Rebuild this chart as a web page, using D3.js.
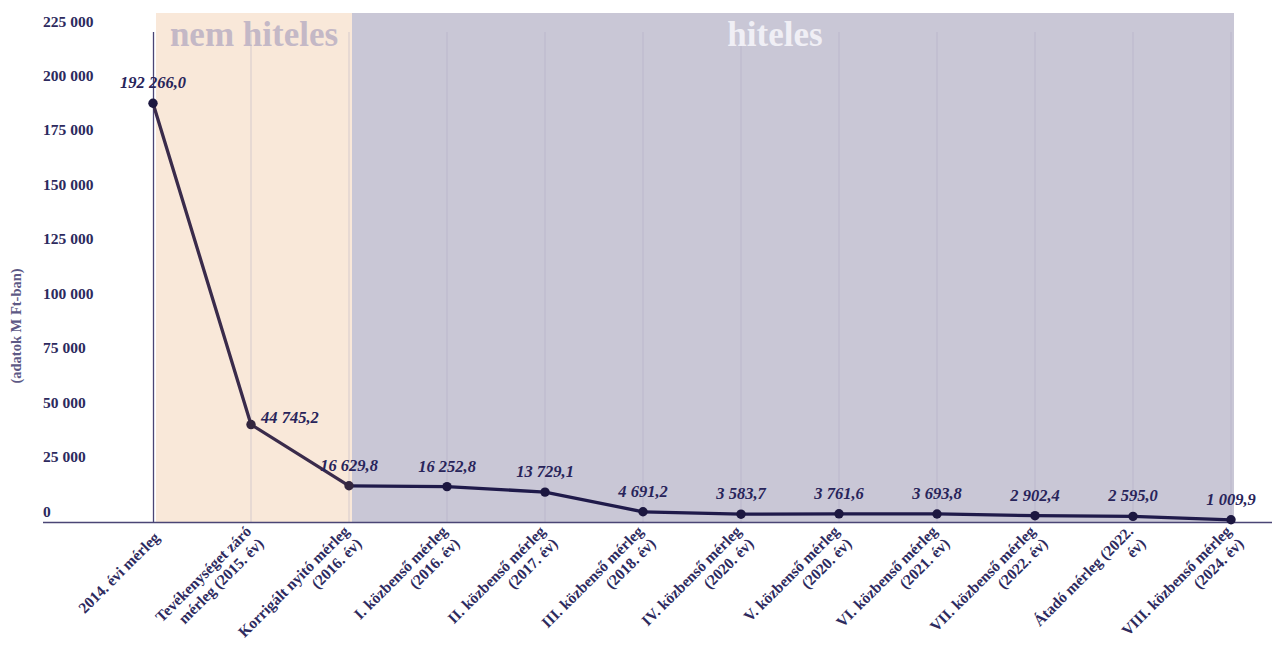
<!DOCTYPE html>
<html>
<head>
<meta charset="utf-8">
<script src="https://cdn.jsdelivr.net/npm/d3@7"></script>
<style>
  html, body { margin: 0; padding: 0; background: #ffffff; }
  svg { display: block; font-family: "Liberation Serif", "Times New Roman", serif; }
</style>
</head>
<body>
<svg id="chart" width="1272" height="646"></svg>
<script>
const categories = [
  ["2014. évi mérleg"],
  ["Tevékenységet záró", "mérleg (2015. év)"],
  ["Korrigált nyitó mérleg", "(2016. év)"],
  ["I. közbenső mérleg", "(2016. év)"],
  ["II. közbenső mérleg", "(2017. év)"],
  ["III. közbenső mérleg", "(2018. év)"],
  ["IV. közbenső mérleg", "(2020. év)"],
  ["V. közbenső mérleg", "(2020. év)"],
  ["VI. közbenső mérleg", "(2021. év)"],
  ["VII. közbenső mérleg", "(2022. év)"],
  ["Átadó mérleg (2022.", "év)"],
  ["VIII. közbenső mérleg", "(2024. év)"]
];
const values = [192266.0, 44745.2, 16629.8, 16252.8, 13729.1, 4691.2, 3583.7, 3761.6, 3693.8, 2902.4, 2595.0, 1009.9];
const valueLabels = ["192 266,0", "44 745,2", "16 629,8", "16 252,8", "13 729,1", "4 691,2", "3 583,7", "3 761,6", "3 693,8", "2 902,4", "2 595,0", "1 009,9"];
const yTicks = [0, 25000, 50000, 75000, 100000, 125000, 150000, 175000, 200000, 225000];
const yTickLabels = ["0", "25 000", "50 000", "75 000", "100 000", "125 000", "150 000", "175 000", "200 000", "225 000"];
const bands = [
  { label: "nem hiteles", from: 0, to: 2 },
  { label: "hiteles", from: 2, to: 11 }
];
const yTitle = "(adatok M Ft-ban)";

const svg = d3.select("#chart");
const idx = categories.map((d, i) => i);

const x = d3.scalePoint().domain(idx).range([153, 1231]);
const y = d3.scaleLinear().domain([0, 225000]).range([522, 32]);

// bands
const bandStyle = [
  { fill: "#f9e8d9", text: "#c4b8c6" },
  { fill: "#c9c7d6", text: "#f0eff5" }
];
const bandTop = 13;
bands.forEach((b, i) => {
  const x0 = x(b.from) + 3, x1 = x(b.to) + 3;
  svg.append("rect")
    .attr("x", x0).attr("y", bandTop)
    .attr("width", x1 - x0).attr("height", y(0) - bandTop)
    .attr("fill", bandStyle[i].fill);
});

// vertical gridlines
svg.append("g").selectAll("line")
  .data(idx.slice(1))
  .join("line")
  .attr("x1", d => x(d)).attr("x2", d => x(d))
  .attr("y1", y(225000)).attr("y2", y(0))
  .attr("stroke", "#a8a4c0")
  .attr("stroke-opacity", 0.45)
  .attr("stroke-width", 1);

// band labels
const bandLabelX = [254, 775];
bands.forEach((b, i) => {
  svg.append("text")
    .attr("x", bandLabelX[i]).attr("y", 46)
    .attr("text-anchor", "middle")
    .attr("font-size", 35)
    .attr("font-weight", "bold")
    .attr("fill", bandStyle[i].text)
    .text(b.label);
});

// axes lines
svg.append("line")
  .attr("x1", 43).attr("x2", 1272)
  .attr("y1", y(0) + 0.5).attr("y2", y(0) + 0.5)
  .attr("stroke", "#4a4575").attr("stroke-width", 1.3);
svg.append("line")
  .attr("x1", x(0) + 0.5).attr("x2", x(0) + 0.5)
  .attr("y1", y(225000)).attr("y2", y(0))
  .attr("stroke", "#4a4575").attr("stroke-width", 1.3);

// y tick labels
svg.append("g").selectAll("text")
  .data(yTicks)
  .join("text")
  .attr("x", 43)
  .attr("y", d => y(d) - 9)
  .attr("dominant-baseline", "middle")
  .attr("font-size", 15.5)
  .attr("font-weight", "bold")
  .attr("fill", "#2d2a5e")
  .text((d, i) => yTickLabels[i]);

// y title
svg.append("text")
  .attr("transform", "translate(21,326) rotate(-90)")
  .attr("text-anchor", "middle")
  .attr("font-size", 14.5)
  .attr("font-weight", "bold")
  .attr("fill", "#5d5985")
  .text(yTitle);

// line
const lineColor = "#1f1a4a";
const segColor = (i) => i < 2 ? "#3a2b4b" : lineColor;
for (let i = 0; i < values.length - 1; i++) {
  svg.append("line")
    .attr("x1", x(i)).attr("y1", y(values[i]))
    .attr("x2", x(i + 1)).attr("y2", y(values[i + 1]))
    .attr("stroke", segColor(i))
    .attr("stroke-width", 3.3)
    .attr("stroke-linecap", "round");
}
svg.append("g").selectAll("circle")
  .data(values)
  .join("circle")
  .attr("cx", (d, i) => x(i))
  .attr("cy", d => y(d))
  .attr("r", 4.7)
  .attr("fill", (d, i) => (i === 1 || i === 2) ? "#33263f" : "#1c1740");

// value labels
svg.append("g").selectAll("text")
  .data(values)
  .join("text")
  .attr("x", (d, i) => i === 1 ? x(i) + 10 : x(i))
  .attr("y", (d, i) => i === 1 ? y(d) - 2 : y(d) - 15)
  .attr("text-anchor", (d, i) => i === 1 ? "start" : "middle")
  .attr("font-size", 16.5)
  .attr("font-weight", "bold")
  .attr("font-style", "italic")
  .attr("fill", "#28245a")
  .text((d, i) => valueLabels[i]);

// x labels
const lh = 17.5;
const xl = svg.append("g");
categories.forEach((lines, i) => {
  const g = xl.append("g")
    .attr("transform", `translate(${x(i) + 5},536) rotate(-45)`);
  lines.forEach((t, k) => {
    g.append("text")
      .attr("x", 0)
      .attr("y", (k - (lines.length - 1) / 2) * lh)
      .attr("dominant-baseline", "middle")
      .attr("text-anchor", "end")
      .attr("font-size", 15.5)
      .attr("font-weight", "bold")
      .attr("fill", "#2d2a5e")
      .text(t);
  });
});
</script>
</body>
</html>
